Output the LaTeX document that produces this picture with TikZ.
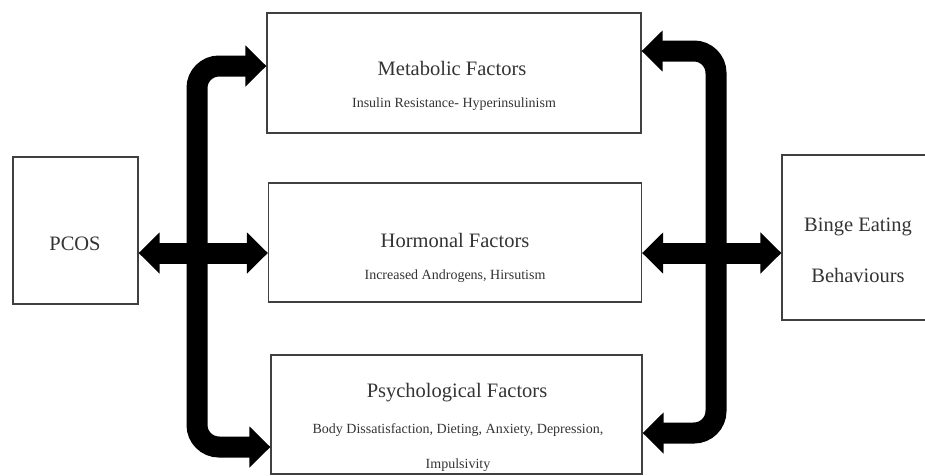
\documentclass[tikz,border=0pt]{standalone}
\usepackage{fontspec}
\setmainfont{Liberation Serif}
\usetikzlibrary{arrows.meta,calc}

\begin{document}
\begin{tikzpicture}[x=1pt,y=-1pt]
    % -----------------------------
    % Parameters (tweak as needed)
    % -----------------------------
    \def\lw{21pt}      % width of the thick connectors
    \def\rc{22pt}      % corner radius of the bent connectors
    \def\barL{197}     % x of the left vertical bar
    \def\barR{716}     % x of the right vertical bar

    % Fonts for titles and sub-lines
    \newcommand{\titlefont}{\fontsize{20.5pt}{24pt}\selectfont}
    \newcommand{\subfont}{\fontsize{14pt}{16pt}\selectfont}

    % -----------------------------
    % Styles
    % -----------------------------
    \tikzset{
      box/.style={draw=black!75, line width=1.3pt, inner sep=0pt},
      txt/.style={text=black!80, inner sep=0pt},
      fat/.style={draw=black, line width=\lw, rounded corners=\rc},
      onetip/.style={-{Triangle[length=21pt,width=42pt]}},
      twotip/.style={{Triangle[length=21pt,width=40pt]}-{Triangle[length=21pt,width=40pt]}}
    }

    \useasboundingbox (0,0) rectangle (925,475);

    % -----------------------------
    % Boxes
    % -----------------------------
    \node[box, minimum width=125pt, minimum height=147pt] (pcos)  at (75.5,230.5) {};
    \node[box, minimum width=374pt, minimum height=120pt] (metab) at (454,73) {};
    \node[box, minimum width=373pt, minimum height=119pt] (horm)  at (455,242.5) {};
    \node[box, minimum width=371pt, minimum height=119pt] (psych) at (456.5,414.5) {};
    \node[box, minimum width=152pt, minimum height=165pt] (binge) at (858,237.5) {};

    % Texts
    \node[txt, font=\titlefont] (pcosT)   at (75,244)  {PCOS};
    \node[txt, font=\titlefont] (metabT)  at (452,68)  {Metabolic Factors};
    \node[txt, font=\subfont]   (metabS)  at (454,104) {Insulin Resistance- Hyperinsulinism};
    \node[txt, font=\titlefont] (hormT)   at (455,240) {Hormonal Factors};
    \node[txt, font=\subfont]   (hormS)   at (455,276) {Increased Androgens, Hirsutism};
    \node[txt, font=\titlefont] (psychT)  at (457,393) {Psychological Factors};
    \node[txt, font=\subfont]   (psychS)  at (458,430) {Body Dissatisfaction, Dieting, Anxiety, Depression,};
    \node[txt, font=\subfont]   (psychS2) at (458,465) {Impulsivity};
    \node[txt, font=\titlefont] (bingeT)  at (858,227) {Binge Eating};
    \node[txt, font=\titlefont] (bingeT2) at (858,275) {Behaviours};

    % -----------------------------
    % Rows the connectors run along
    % -----------------------------
    \coordinate (midrow) at (0,253);
    \coordinate (topL)   at (\barL,66);
    \coordinate (botL)   at (\barL,447);
    \coordinate (topR)   at (\barR,51);
    \coordinate (botR)   at (\barR,433);

    % Left bracket: Metabolic <-> Psychological
    \draw[fat, twotip] (metab.west |- topL) -- (topL) -- (botL) -- (psych.west |- botL);
    % Right bracket: Metabolic <-> Psychological
    \draw[fat, twotip] (metab.east |- topR) -- (topR) -- (botR) -- (psych.east |- botR);

    % Middle row: PCOS <-> Hormonal <-> Binge Eating
    \draw[fat, twotip] (pcos.east |- midrow) -- (horm.west |- midrow);
    \draw[fat, twotip] (horm.east |- midrow) -- (binge.west |- midrow);

\end{tikzpicture}
\end{document}
